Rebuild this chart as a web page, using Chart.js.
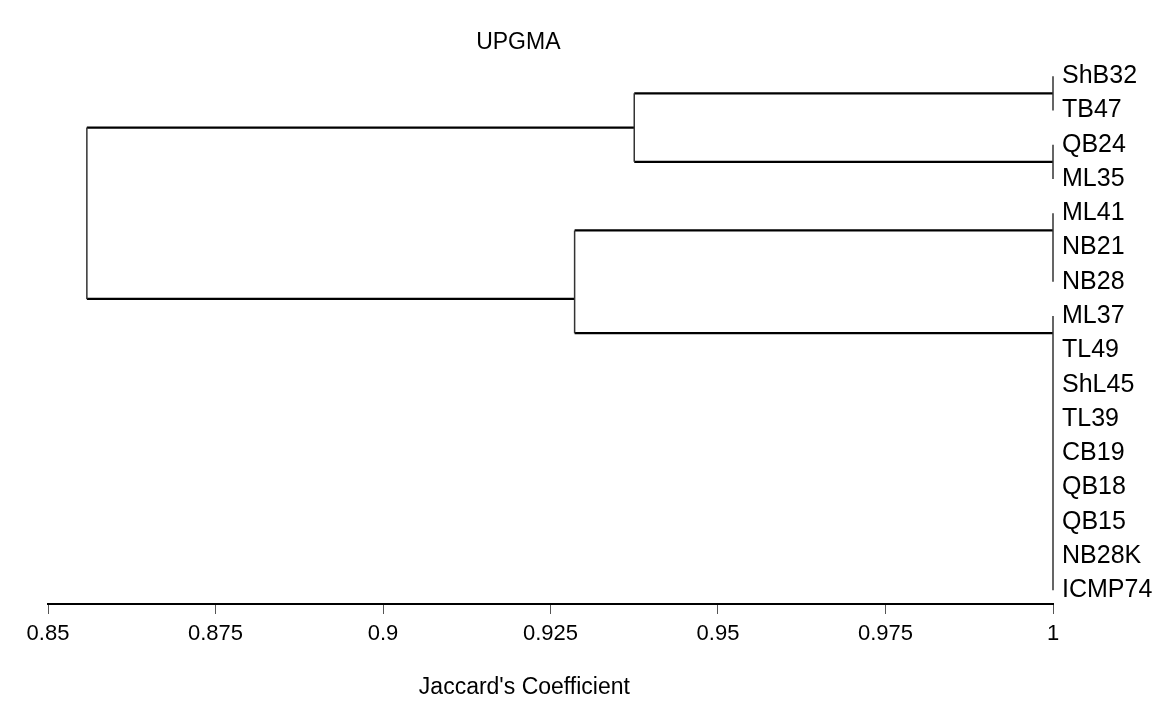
<!DOCTYPE html>
<html>
<head>
<meta charset="utf-8">
<title>UPGMA</title>
<script src="https://cdn.jsdelivr.net/npm/chart.js@4.4.1/dist/chart.umd.min.js"></script>
<style>
  html, body { margin: 0; padding: 0; background: #fff; }
  .wrap { width: 1155px; height: 718px; position: relative; }
</style>
</head>
<body>
<div class="wrap"><canvas class="tree"></canvas></div>
<script>
// leaves, top to bottom
const leafNames = ['ShB32', 'TB47', 'QB24', 'ML35', 'ML41', 'NB21', 'NB28', 'ML37',
  'TL49', 'ShL45', 'TL39', 'CB19', 'QB18', 'QB15', 'NB28K', 'ICMP74'];

// clusters of the tree (Jaccard similarity where they join)
const nodeSim = [1, 1, 1, 1, 0.9375, 0.9286, 0.8558];
// leaf slot where the link of each cluster leaves it
const nodeSlot = [0.5, 2.5, 4.5, 7.5, 1.5, 6.5, 4];
// first and last leaf of each cluster
const nodeFirst = [0, 2, 4, 7, 0, 4, 0];
const nodeLast = [1, 3, 6, 15, 3, 15, 15];
// child clusters (empty = joins leaves directly)
const nodeKids = [[], [], [], [], [0, 1], [2, 3], [4, 5]];

const xTicks = [0.85, 0.875, 0.9, 0.925, 0.95, 0.975, 1];

const FONT = "'Liberation Sans', Arial, sans-serif";

function seg(x1, y1, x2, y2, vertical) {
  return {
    data: [{ x: x1, y: y1 }, { x: x2, y: y2 }],
    showLine: true,
    borderColor: vertical ? '#333' : '#000',
    borderWidth: vertical ? 1.5 : 2.2,
    pointRadius: 0,
    clip: false,
  };
}

const datasets = [];
nodeSim.forEach((sim, i) => {
  const kids = nodeKids[i];
  if (kids.length === 0) {
    datasets.push(seg(sim, nodeFirst[i], sim, nodeLast[i], true));
  } else {
    datasets.push(seg(sim, nodeSlot[kids[0]], sim, nodeSlot[kids[1]], true));
    kids.forEach((k) => {
      datasets.push(seg(nodeSim[k], nodeSlot[k], sim, nodeSlot[k], false));
    });
  }
});

// title and axis caption
const captions = {
  id: 'captions',
  afterDraw(chart) {
    const { ctx, chartArea } = chart;
    const w = chartArea.right - chartArea.left;
    ctx.save();
    ctx.fillStyle = '#000';
    ctx.textAlign = 'center';
    ctx.textBaseline = 'middle';
    ctx.font = '23px ' + FONT;
    ctx.fillText('UPGMA', chartArea.left + 0.468 * w, 43);
    ctx.font = '23px ' + FONT;
    ctx.fillText("Jaccard's Coefficient", chartArea.left + 0.474 * w, 688);
    ctx.restore();
  }
};

const config = {
  type: 'scatter',
  data: { datasets },
  options: {
    responsive: true,
    maintainAspectRatio: false,
    animation: false,
    layout: { padding: { left: 48, top: 59, right: 0, bottom: 0 } },
    plugins: {
      legend: { display: false },
      tooltip: { enabled: false },
    },
    scales: {
      x: {
        type: 'linear',
        position: 'bottom',
        min: 0.85,
        max: 1,
        afterBuildTicks: (axis) => { axis.ticks = xTicks.map((v) => ({ value: v })); },
        afterFit: (axis) => { axis.height = 114; },
        grid: { drawOnChartArea: false, drawTicks: true, tickLength: 10, color: '#555', lineWidth: 1 },
        border: { display: true, color: '#000', width: 2 },
        ticks: {
          color: '#000',
          padding: 7,
          maxRotation: 0,
          font: { family: FONT, size: 22 },
          callback: (v) => String(Number(v.toFixed(3))),
        },
      },
      y: {
        type: 'linear',
        position: 'right',
        reverse: true,
        min: -0.5,
        max: 15.4,
        afterBuildTicks: (axis) => { axis.ticks = leafNames.map((n, i) => ({ value: i })); },
        afterFit: (axis) => { axis.width = 102; },
        grid: { display: false, drawTicks: false },
        border: { display: false },
        ticks: {
          color: '#000',
          padding: 9,
          font: { family: FONT, size: 25 },
          callback: (v) => leafNames[v],
        },
      },
    },
  },
  plugins: [captions],
};

const treeChart = new Chart(document.querySelector('.tree'), config);
</script>
</body>
</html>
